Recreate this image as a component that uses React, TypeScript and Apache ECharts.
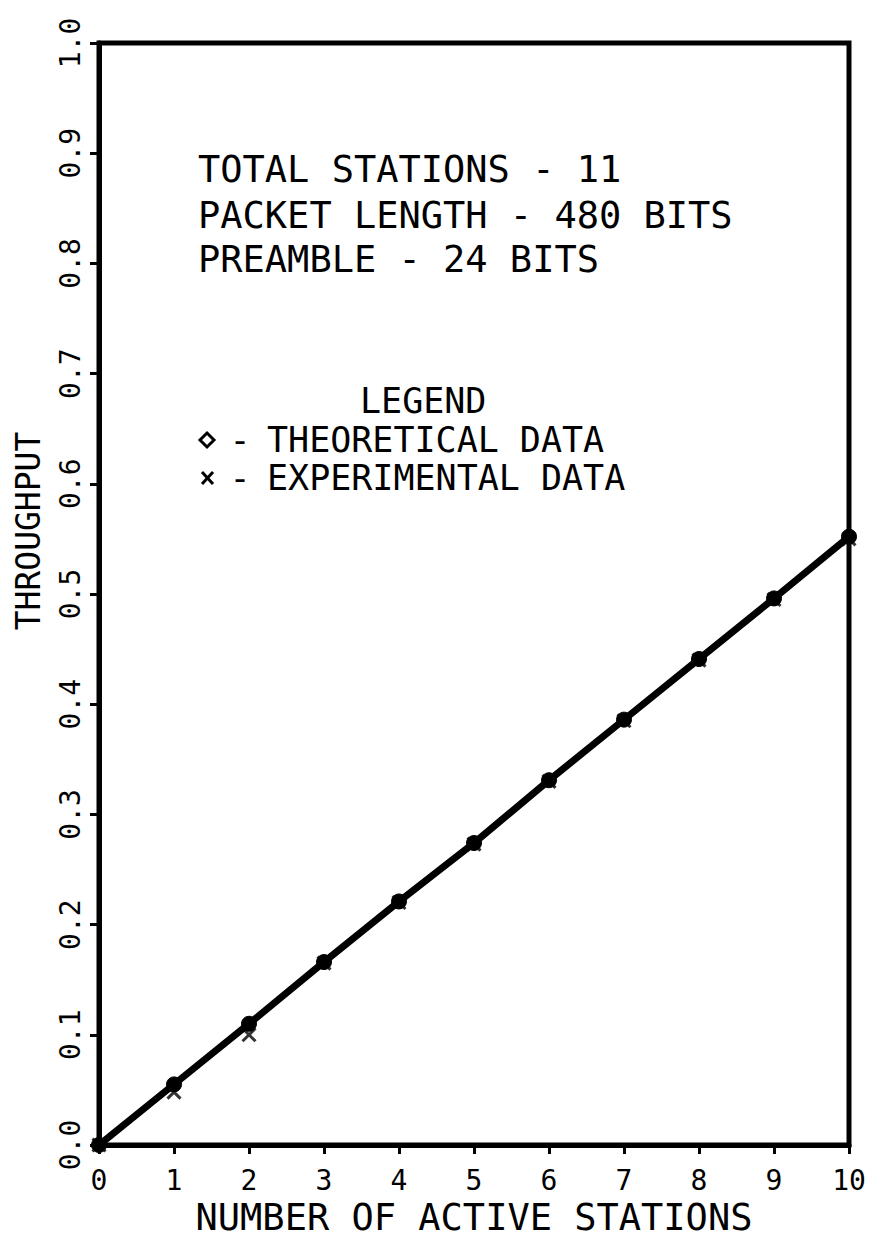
import React, { useEffect, useRef } from "react";
import * as echarts from "echarts";

const stations = [0, 1, 2, 3, 4, 5, 6, 7, 8, 9, 10];
const theoretical = [0, 0.055, 0.11, 0.166, 0.221, 0.274, 0.331, 0.386, 0.441, 0.496, 0.552];
const experimental = [0, 0.048, 0.1, 0.165, 0.22, 0.273, 0.33, 0.385, 0.44, 0.495, 0.55];
const infoLines = ["TOTAL STATIONS - 11", "PACKET LENGTH - 480 BITS", "PREAMBLE - 24 BITS"];
const legendTitle = "LEGEND";
const legendItems = ["THEORETICAL DATA", "EXPERIMENTAL DATA"];
const xName = "NUMBER OF ACTIVE STATIONS";
const yName = "THROUGHPUT";

const MONO = "'DejaVu Sans Mono', monospace";

export default function App() {
  const ref = useRef<HTMLDivElement>(null);
  useEffect(() => {
    if (!ref.current) return;
    const chart = echarts.init(ref.current, null, { renderer: "svg" });
    const infoY = [169, 215, 259];
    const legendY = [401, 440, 478];
    const txt = (t: string, x: number, y: number, size: number, align = "left") => ({
      type: "text",
      x,
      y,
      style: { text: t, fontFamily: MONO, fontSize: size, fill: "#000", verticalAlign: "middle", align },
    });
    const option: any = {
      animation: false,
      backgroundColor: "#fff",
      grid: {
        left: 99,
        right: 22,
        top: 43,
        bottom: 98,
        show: true,
        borderColor: "#000",
        borderWidth: 5,
      },
      xAxis: {
        type: "value",
        min: 0,
        max: 10,
        interval: 1,
        name: xName,
        nameLocation: "middle",
        nameGap: 52,
        nameTextStyle: { fontFamily: MONO, fontSize: 37, color: "#000" },
        axisLine: { show: true, lineStyle: { color: "#000", width: 5 } },
        axisTick: { show: true, inside: false, length: 9, lineStyle: { color: "#000", width: 3 } },
        axisLabel: { margin: 21, fontFamily: MONO, fontSize: 28, color: "#000" },
        splitLine: { show: false },
      },
      yAxis: {
        type: "value",
        min: 0,
        max: 1,
        interval: 0.1,
        axisLine: { show: true, lineStyle: { color: "#000", width: 5 } },
        axisTick: { show: true, inside: false, length: 9, lineStyle: { color: "#000", width: 3 } },
        axisLabel: {
          rotate: 90,
          margin: 15,
          fontFamily: MONO,
          fontSize: 28,
          color: "#000",
          formatter: (v: number) => v.toFixed(1),
        },
        splitLine: { show: false },
      },
      graphic: [
        ...infoLines.map((t, i) => txt(t, 198, infoY[i], 37)),
        txt(legendTitle, 360, legendY[0], 35),
        txt("-", 240, legendY[1], 35, "center"),
        txt(legendItems[0], 267, legendY[1], 35),
        txt("-", 240, legendY[2], 35, "center"),
        txt(legendItems[1], 267, legendY[2], 35),
        {
          type: "polygon",
          shape: { points: [[207, 433], [214, 440], [207, 447], [200, 440]] },
          style: { fill: "none", stroke: "#000", lineWidth: 3 },
        },
        {
          type: "line",
          shape: { x1: 202, y1: 472, x2: 213, y2: 484 },
          style: { stroke: "#000", lineWidth: 3 },
        },
        {
          type: "line",
          shape: { x1: 213, y1: 472, x2: 202, y2: 484 },
          style: { stroke: "#000", lineWidth: 3 },
        },
        {
          type: "text",
          x: 28,
          y: 531,
          rotation: Math.PI / 2,
          style: { text: yName, fontFamily: MONO, fontSize: 33, fill: "#000", verticalAlign: "middle", align: "center" },
        },
      ],
      series: [
        {
          name: "EXPERIMENTAL DATA",
          type: "scatter",
          data: stations.map((s, i) => [s, experimental[i]]),
          symbol: "path://M0,0L10,10M10,0L0,10",
          symbolSize: 13,
          itemStyle: { color: "#000", borderColor: "#000", borderWidth: 3 },
          z: 2,
        },
        {
          name: "THEORETICAL DATA",
          type: "line",
          data: stations.map((s, i) => [s, theoretical[i]]),
          symbol: "circle",
          symbolSize: 15,
          showSymbol: true,
          lineStyle: { color: "#000", width: 7 },
          itemStyle: { color: "#000", borderColor: "#000", borderWidth: 1 },
          z: 3,
        },
      ],
    };
    chart.setOption(option);
    return () => chart.dispose();
  }, []);
  return (
    <div
      ref={ref}
      style={{ position: "absolute", left: 0, top: 0, width: 871, height: 1243, background: "#fff" }}
    />
  );
}
